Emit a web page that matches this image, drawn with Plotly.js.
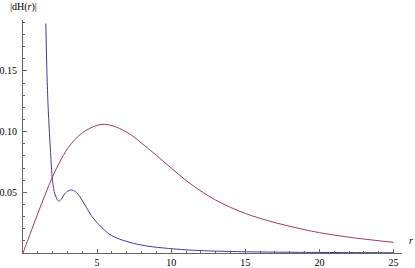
<!DOCTYPE html>
<html>
<head>
<meta charset="utf-8">
<script src="https://cdn.plot.ly/plotly-3.0.1.min.js"></script>
<style>html,body{margin:0;padding:0;background:#fff;}#chart{width:415px;height:268px;}</style>
</head>
<body>
<div id="chart"></div>
<script>
// Blue curve
var blueR = [1.54, 1.6, 1.67, 1.75, 1.85, 1.96, 2.08, 2.2, 2.33, 2.45, 2.6, 2.82, 3.05, 3.27, 3.55, 3.83, 4.28, 4.6, 4.96, 5.4, 5.86, 6.5, 7.43, 8.5, 9.69, 11, 12.6, 15, 18, 21, 25];
var blueY = [0.189, 0.155, 0.128, 0.106, 0.085, 0.0635, 0.052, 0.047, 0.0435, 0.0428, 0.0445, 0.0488, 0.0512, 0.052, 0.0505, 0.0466, 0.0375, 0.031, 0.0255, 0.020, 0.0152, 0.0115, 0.0080, 0.0055, 0.0039, 0.0026, 0.0017, 0.0010, 0.0006, 0.0004, 0.0002];
// Red curve
var redR = [0, 0.5, 1, 1.5, 2, 2.5, 3, 3.5, 4, 4.5, 5, 5.5, 6, 6.5, 7, 7.5, 8, 9, 10, 11, 12, 13, 14, 15, 16, 17, 18, 19, 20, 22, 25];
var redY = [0, 0.0163, 0.0326, 0.0483, 0.0630, 0.0755, 0.0860, 0.0935, 0.0990, 0.1027, 0.1052, 0.1060, 0.1050, 0.1027, 0.0995, 0.0955, 0.0905, 0.0805, 0.0700, 0.0598, 0.0510, 0.0436, 0.0376, 0.0326, 0.0285, 0.0250, 0.0220, 0.0192, 0.0168, 0.0130, 0.0088];
var xTicks = [5, 10, 15, 20, 25];
var yTicks = [0.05, 0.10, 0.15];
var yTickText = ["0.05", "0.10", "0.15"];

var traces = [
  {x: blueR, y: blueY, mode: 'lines', line: {color: '#3d3d99', width: 1, shape: 'spline', smoothing: 0.7}, hoverinfo: 'skip'},
  {x: redR, y: redY, mode: 'lines', line: {color: '#993d71', width: 1, shape: 'spline', smoothing: 1}, hoverinfo: 'skip'}
];
var font = {family: "Times New Roman", size: 10, color: '#000'};
var layout = {
  width: 415, height: 268,
  margin: {l: 23, r: 13, t: 20, b: 15},
  paper_bgcolor: '#fff', plot_bgcolor: '#fff',
  showlegend: false,
  font: font,
  xaxis: {
    range: [0, 25.57], showgrid: false, zeroline: false,
    showline: true, linecolor: '#666', linewidth: 1,
    ticks: 'inside', ticklen: 4, tickcolor: '#666', tickwidth: 1,
    tickvals: xTicks, ticktext: xTicks.map(String),
    minor: {dtick: 1, tick0: 0, ticks: 'inside', ticklen: 2, tickcolor: '#666', showgrid: false},
    tickfont: font, automargin: false, fixedrange: true
  },
  yaxis: {
    range: [0, 0.192], showgrid: false, zeroline: false,
    showline: true, linecolor: '#666', linewidth: 1,
    ticks: 'inside', ticklen: 4, tickcolor: '#666', tickwidth: 1,
    tickvals: yTicks, ticktext: yTickText, ticklabelstandoff: 3,
    minor: {dtick: 0.01, tick0: 0, ticks: 'inside', ticklen: 2, tickcolor: '#666', showgrid: false},
    tickfont: font, automargin: false, fixedrange: true
  },
  annotations: [
    {xref: 'paper', yref: 'paper', x: 1.012, y: 0.055, xanchor: 'left', yanchor: 'middle', text: '<i>r</i>', showarrow: false, font: font},
    {xref: 'paper', yref: 'paper', x: 0.0, y: 1.055, xanchor: 'center', yanchor: 'middle', text: '|dH(<i>r</i>)|', showarrow: false, font: font}
  ]
};
Plotly.newPlot('chart', traces, layout, {staticPlot: true, displayModeBar: false});
</script>
</body>
</html>
